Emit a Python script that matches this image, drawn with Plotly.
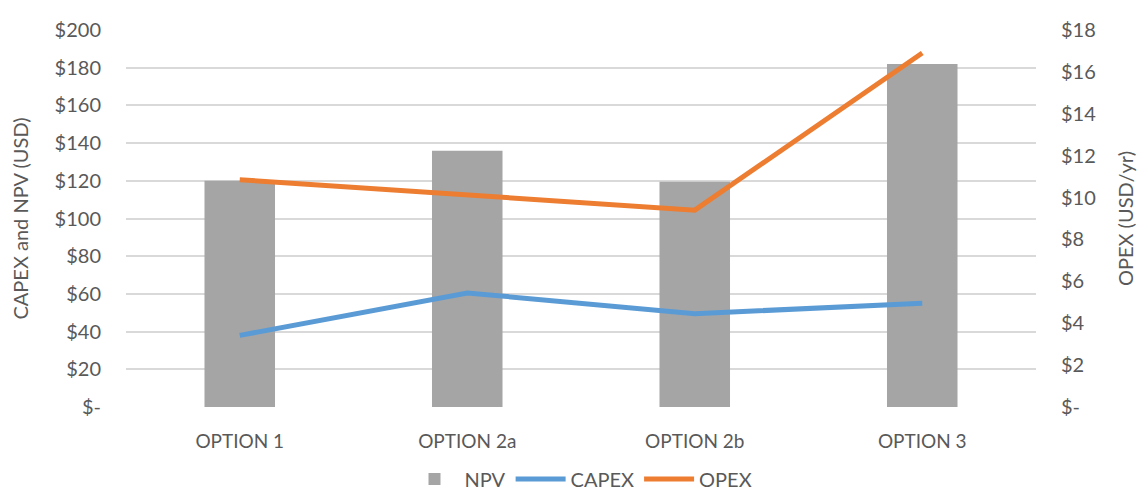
import plotly.graph_objects as go

options = ["OPTION 1", "OPTION 2a", "OPTION 2b", "OPTION 3"]
npv = [120, 136, 119.5, 182]
capex = [38, 60.5, 49.5, 55]
opex = [10.85, 10.15, 9.4, 16.9]

left_ticks = list(range(0, 201, 20))
left_labels = ["$-"] + [f"${v}" for v in left_ticks[1:]]
right_ticks = list(range(0, 19, 2))
right_labels = ["$-"] + [f"${v}" for v in right_ticks[1:]]

text_color = "#595959"
font_family = "Lato, 'Open Sans', sans-serif"

fig = go.Figure()
fig.add_trace(go.Bar(
    x=options, y=npv, name="NPV",
    marker=dict(color="#A5A5A5", line=dict(width=0)),
))
fig.add_trace(go.Scatter(
    x=options, y=capex, name="CAPEX", mode="lines",
    line=dict(color="#5B9BD5", width=5),
))
fig.add_trace(go.Scatter(
    x=options, y=opex, name="OPEX", mode="lines", yaxis="y2",
    line=dict(color="#ED7D31", width=5),
))

fig.update_layout(
    width=1144, height=501,
    margin=dict(l=126, r=108, t=30, b=94, autoexpand=False),
    paper_bgcolor="white", plot_bgcolor="white",
    font=dict(family=font_family, color=text_color, size=20),
    bargap=0.69,
    showlegend=True,
    legend=dict(orientation="h", x=0.5, xanchor="center",
                yref="container", y=0.005, yanchor="bottom",
                font=dict(size=20), itemwidth=50, traceorder="normal"),
    xaxis=dict(showgrid=False, showline=False, ticks="outside", ticklen=17,
               tickcolor="rgba(0,0,0,0)", tickfont=dict(size=19), automargin=False),
    yaxis=dict(range=[0, 200], tickvals=left_ticks, ticktext=left_labels,
               showgrid=True, gridcolor="#D9D9D9", gridwidth=1.5,
               zeroline=False, showline=False, ticks="", ticklabelstandoff=24,
               automargin=False,
               title=dict(text="CAPEX and NPV (USD)", font=dict(size=20), standoff=20)),
    yaxis2=dict(range=[0, 18], tickvals=right_ticks, ticktext=right_labels,
                overlaying="y", side="right", showgrid=False, zeroline=False,
                showline=False, ticks="", ticklabelstandoff=24, automargin=False,
                title=dict(text="OPEX (USD/yr)", font=dict(size=20), standoff=23)),
)

fig.write_html("out.html")
